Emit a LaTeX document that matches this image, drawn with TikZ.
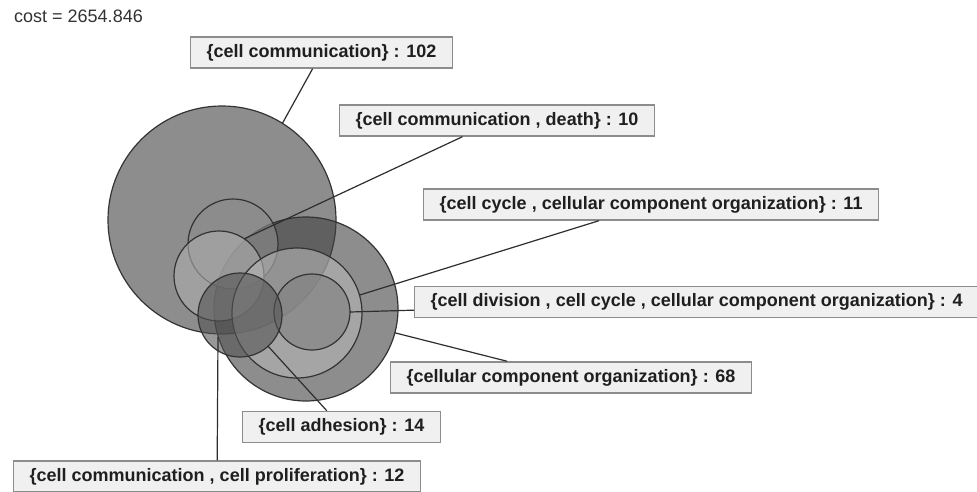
\documentclass[tikz,border=0pt]{standalone}
\usepackage{fontspec}
\setmainfont{Liberation Sans}
\usepackage{tikz}

\begin{document}
\begin{tikzpicture}[x=1pt, y=-1pt,
    setc/.style={circle, draw=black!80, line width=1.2pt, fill opacity=0.6, inner sep=0pt, outer sep=0pt, minimum size=#1},
    tag/.style={draw=black!45, line width=1.4pt, fill=black!6, anchor=west, inner xsep=16pt, inner ysep=0pt, minimum height=31pt, text=black!88, font=\fontsize{18}{20}\selectfont\bfseries},
    link/.style={draw=black!82, line width=1.2pt}
]
    \fill[white] (0,0) rectangle (977,492);
    \useasboundingbox (0,0) rectangle (977,492);

    % Cost
    \node[anchor=base west, inner sep=0pt, text=black!80, font=\fontsize{18}{20}\selectfont] (cost) at (14,23) {cost = 2654.846};

    % Sets
    \node[setc=228pt, fill=black!74] (cComm) at (222,220) {};
    \node[setc=184pt, fill=black!74] (cOrg) at (306,309) {};
    \node[setc=90pt, fill=black!45] (cDeath) at (233,244) {};
    \node[setc=90pt, fill=black!32] (cProlif) at (219,276) {};
    \node[setc=130pt, fill=black!29] (cCycle) at (297,313) {};
    \node[setc=76pt, fill=black!50] (cDiv) at (312,312) {};
    \node[setc=84pt, fill=black!67] (cAdh) at (240,315) {};
    \coordinate (prolifPt) at (218,337);

    % Labels
    \node[tag] (lbComm) at (190,52.5) {\{cell communication\} : 102};
    \node[tag] (lbDeath) at (339,120.5) {\{cell communication , death\} : 10};
    \node[tag] (lbCycle) at (423,204.5) {\{cell cycle , cellular component organization\} : 11};
    \node[tag] (lbDiv) at (414,302) {\{cell division , cell cycle , cellular component organization\} : 4};
    \node[tag] (lbOrg) at (390,377.5) {\{cellular component organization\} : 68};
    \node[tag] (lbAdh) at (242,427) {\{cell adhesion\} : 14};
    \node[tag] (lbProlif) at (13,476.5) {\{cell communication , cell proliferation\} : 12};

    % Connections
    \draw[link] (cComm.58) -- (lbComm);
    \draw[link, shorten <=13pt] (cDeath.center) -- (lbDeath);
    \draw[link] (cCycle.16) -- (lbCycle);
    \draw[link] (cDiv.east) -- (lbDiv);
    \draw[link] (cOrg.-15) -- (lbOrg);
    \draw[link] (cAdh.-48) -- (lbAdh);
    \draw[link] (prolifPt) -- (lbProlif);
\end{tikzpicture}
\end{document}
